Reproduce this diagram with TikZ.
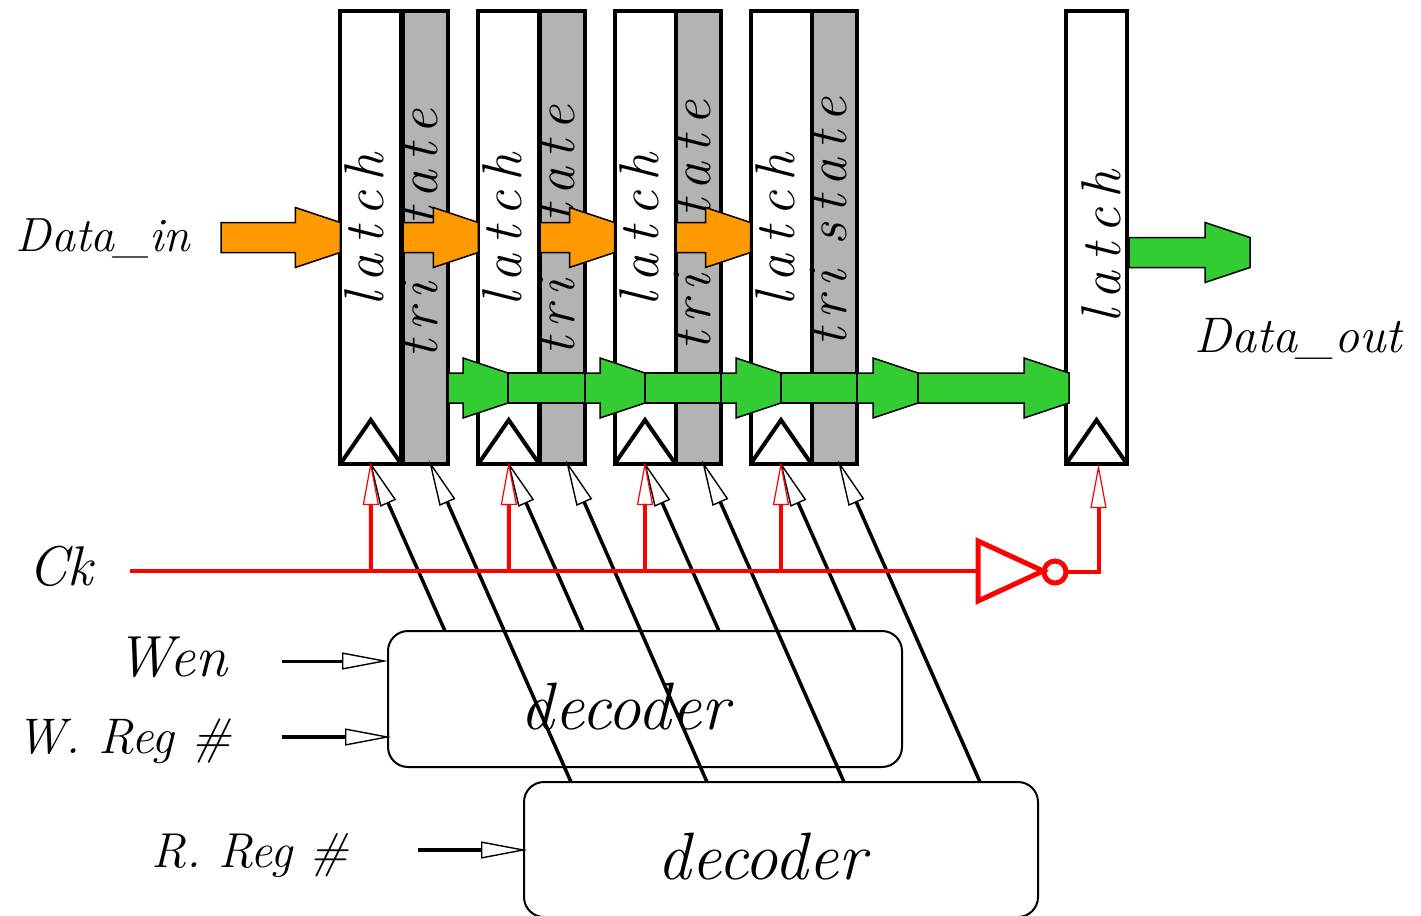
\documentclass[tikz,border=0pt]{standalone}
\usepackage{fontspec}
\usetikzlibrary{arrows.meta,calc,shapes.geometric}
\definecolor{busorange}{HTML}{FF9900}
\definecolor{busgreen}{HTML}{33CC33}
\definecolor{trigray}{HTML}{B3B3B3}
\tikzset{
  latch/.style={draw,fill=white,line width=2pt,minimum width=30.5pt,minimum height=226.5pt,inner sep=0pt,outer sep=0pt},
  tri/.style={draw,fill=trigray,line width=2pt,minimum width=22.5pt,minimum height=226.5pt,inner sep=0pt,outer sep=0pt},
  celltext/.style={rotate=90,inner sep=0pt,font=\fontsize{28}{30}\selectfont\itshape},
  sigtext/.style={inner sep=0pt,font=\fontsize{#1}{28}\selectfont\itshape},
  sigtext/.default=26,
  dectext/.style={inner sep=0pt,font=\fontsize{33.5}{36}\selectfont\itshape},
  decoder/.style={draw,line width=1pt,rounded corners=10pt,minimum width=257pt,inner sep=0pt,outer sep=0pt},
  selwire/.style={line width=1.75pt,-{Triangle[length=23pt,width=8.5pt,fill=white,line width=0.7pt]}},
  ckwire/.style={red,line width=2pt},
  ckarrow/.style={ckwire,-{Triangle[length=22pt,width=8pt,fill=white,line width=0.6pt]}},
  orangebus/.style={draw,fill=busorange,line width=0.75pt},
  greenbus/.style={draw,fill=busgreen,line width=0.75pt},
}
\newcommand{\latchword}{l\kern5pt a\kern5pt t\kern5pt c\kern5pt h}
\newcommand{\triword}{t\kern4.5pt r\kern4.5pt i\kern3pt\ s\kern4.5pt t\kern4.5pt a\kern4.5pt t\kern4.5pt e}
\newcommand{\busarrow}[3]{\draw[#1] let \p1=#2, \p2=#3 in
  (\x1,\y1+7.5pt) -- (\x2-22.5pt,\y1+7.5pt) -- (\x2-22.5pt,\y1+15pt) -- (\x2,\y1+7.5pt)
  -- (\x2,\y1-7.5pt) -- (\x2-22.5pt,\y1-15pt) -- (\x2-22.5pt,\y1-7.5pt) -- (\x1,\y1-7.5pt) -- cycle;}
\newcommand{\busbar}[3]{\draw[#1] ([yshift=7.5pt]#2) rectangle ([yshift=-7.5pt]#3);}
\begin{document}
\begin{tikzpicture}[x=0.5pt,y=-0.5pt]
\useasboundingbox (0,0) rectangle (1421,916);

\node[tri] (tri1) at (425.5,237.5) {};
\node[tri] (tri2) at (562.5,237.5) {};
\node[tri] (tri3) at (698.5,237.5) {};
\node[tri] (tri4) at (834.5,237.5) {};
\node[latch] (latch1) at (370.75,237.5) {};
\node[latch] (latch2) at (508.75,237.5) {};
\node[latch] (latch3) at (645,237.5) {};
\node[latch] (latch4) at (781,237.5) {};
\node[latch] (latch5) at (1096.5,237.5) {};

\node[celltext] (ltext1) at (364,230) {\latchword};
\node[celltext] (ltext2) at (502,230) {\latchword};
\node[celltext] (ltext3) at (639,230) {\latchword};
\node[celltext] (ltext4) at (775,230) {\latchword};
\node[celltext] (ltext5) at (1101,247) {\latchword};
\node[celltext] (ttext1) at (420,234) {\triword};
\node[celltext] (ttext2) at (557,230.5) {\triword};
\node[celltext] (ttext3) at (693,225.5) {\triword};
\node[celltext] (ttext4) at (829,222) {\triword};

\draw[line width=2pt] (latch1.south west) -- ++(30.5,-44) -- (latch1.south east);
\draw[line width=2pt] (latch2.south west) -- ++(30.5,-44) -- (latch2.south east);
\draw[line width=2pt] (latch3.south west) -- ++(30.5,-44) -- (latch3.south east);
\draw[line width=2pt] (latch4.south west) -- ++(30.5,-44) -- (latch4.south east);
\draw[line width=2pt] (latch5.south west) -- ++(30.5,-44) -- (latch5.south east);

\coordinate (datain) at (221,237.5);
\coordinate (dataout) at (1129,252.5);
\coordinate (outend) at (1250,252.5);
\coordinate (g0) at (448,388);
\coordinate (g1) at (508,388);
\coordinate (g2) at (585,388);
\coordinate (g3) at (645,388);
\coordinate (g4) at (721,388);
\coordinate (g5) at (781,388);
\coordinate (g6) at (857,388);
\coordinate (g7) at (918,388);
\coordinate (g8) at (1069,388);

\busarrow{orangebus}{(datain)}{(latch1.west)}
\busarrow{orangebus}{(tri1.west)}{(latch2.west)}
\busarrow{orangebus}{(tri2.west)}{(latch3.west)}
\busarrow{orangebus}{(tri3.west)}{(latch4.west)}

\busarrow{greenbus}{(g0)}{(g1)}
\busbar{greenbus}{g1}{g2}
\busarrow{greenbus}{(g2)}{(g3)}
\busbar{greenbus}{g3}{g4}
\busarrow{greenbus}{(g4)}{(g5)}
\busbar{greenbus}{g5}{g6}
\busarrow{greenbus}{(g6)}{(g7)}
\busarrow{greenbus}{(g7)}{(g8)}
\busarrow{greenbus}{(dataout)}{(outend)}

\node[decoder,minimum height=68pt] (wdec) at (645,699) {};
\node[decoder,minimum height=67.5pt] (rdec) at (781,849.5) {};
\node[dectext] (wdectext) at (625,707) {decoder};
\node[dectext] (rdectext) at (762,857) {decoder};

\node[sigtext=24] (din) at (103,238) {Data\_in};
\node[sigtext=25] (dout) at (1298,339) {Data\_out};
\node[sigtext=28] (ck) at (61,566) {Ck};
\node[sigtext=29] (wen) at (172,657) {Wen};
\node[sigtext=25] (wreg) at (124,741) {W. Reg \#};
\node[sigtext=24.5] (rreg) at (250,855) {R. Reg \#};

\coordinate (wenin) at (282,661);
\coordinate (wregin) at (282,737);
\coordinate (rregin) at (418,850);
\draw[selwire,line width=1.5pt] (wenin) -- (wenin -| wdec.west);
\draw[selwire,shorten >=-1.5pt] (wregin) -- (wregin -| wdec.west);
\draw[selwire,shorten >=-1.5pt] (rregin) -- (rregin -| rdec.west);

\coordinate (w1) at (445,631);
\coordinate (w2) at (583,631);
\coordinate (w3) at (719,631);
\coordinate (w4) at (855,631);
\coordinate (r1) at (571,782);
\coordinate (r2) at (707,782);
\coordinate (r3) at (844,782);
\coordinate (r4) at (980,782);
\draw[selwire,shorten >=-1.5pt] (w1) -- (latch1.south);
\draw[selwire,shorten >=-1.5pt] (w2) -- (latch2.south);
\draw[selwire,shorten >=-1.5pt] (w3) -- (latch3.south);
\draw[selwire,shorten >=-1.5pt] (w4) -- (latch4.south);
\draw[selwire,shorten >=-2pt] (r1) -- ([xshift=2.5pt]tri1.south);
\draw[selwire,shorten >=-2pt] (r2) -- ([xshift=2.5pt]tri2.south);
\draw[selwire,shorten >=-2pt] (r3) -- ([xshift=2.5pt]tri3.south);
\draw[selwire,shorten >=-2pt] (r4) -- ([xshift=2.5pt]tri4.south);

\node[draw=red,isosceles triangle,isosceles triangle stretches,line width=2.5pt,minimum width=30pt,minimum height=32.5pt,inner sep=0pt,outer sep=0pt,anchor=lower side] (inv) at (978,571) {};
\node[circle,draw=red,line width=2.5pt,minimum size=11pt,inner sep=0pt,outer sep=0pt] (bubble) at (1055,572) {};

\coordinate (ckin) at (130,571);
\coordinate (b1) at (371,571);
\coordinate (b2) at (509,571);
\coordinate (b3) at (645,571);
\coordinate (b4) at (781,571);
\draw[ckwire] (ckin) -- (inv.lower side);
\draw[ckarrow,shorten >=-1.5pt] (b1) -- (latch1.south);
\draw[ckarrow,shorten >=-1.5pt] (b2) -- (latch2.south);
\draw[ckarrow,shorten >=-1.5pt] (b3) -- (latch3.south);
\draw[ckarrow,shorten >=-1.5pt] (b4) -- (latch4.south);
\draw[ckarrow] (bubble.east) -| ([xshift=1pt]latch5.south);
\end{tikzpicture}
\end{document}
